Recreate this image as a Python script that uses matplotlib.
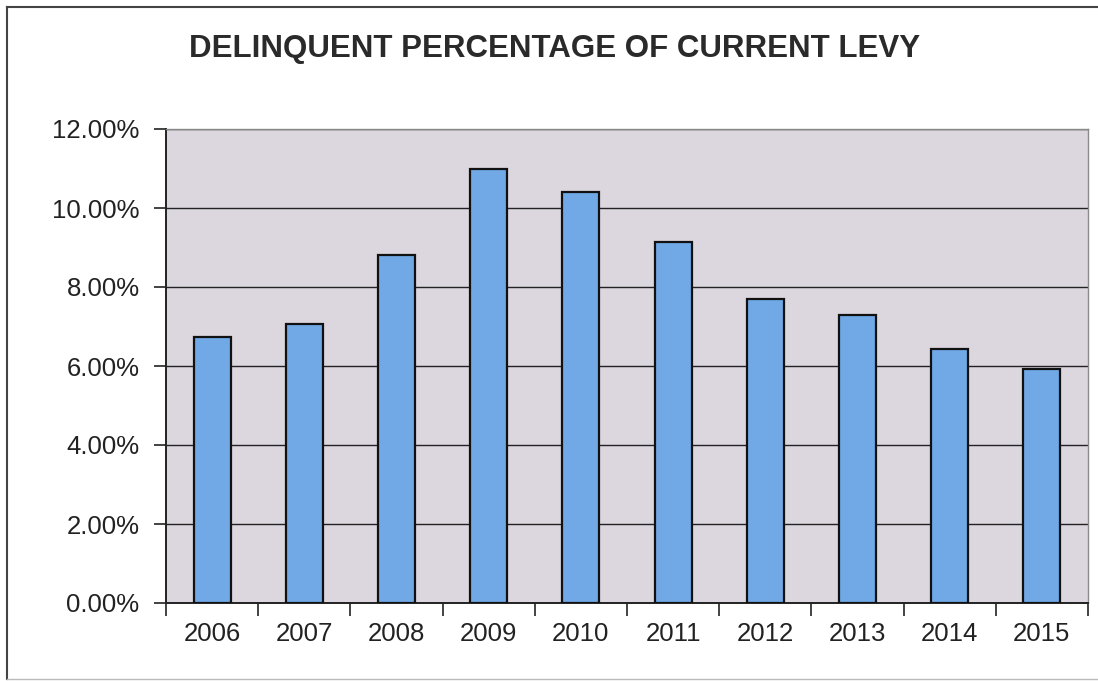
"""Delinquent percentage of current levy, 2006-2015 (Excel-style bar chart)."""

import matplotlib
matplotlib.use("Agg")
import matplotlib.pyplot as plt
from matplotlib.lines import Line2D
from matplotlib.ticker import FixedLocator, FuncFormatter

years = ["2006", "2007", "2008", "2009", "2010", "2011", "2012", "2013", "2014", "2015"]
delinquent_pct = [6.73, 7.06, 8.80, 10.99, 10.41, 9.13, 7.69, 7.29, 6.43, 5.92]
y_ticks = [0, 2, 4, 6, 8, 10, 12]

W, H = 1098, 681
fig = plt.figure(figsize=(W / 100, H / 100), dpi=100)
fig.patch.set_facecolor("white")
plt.rcParams["font.family"] = ["Liberation Sans", "DejaVu Sans"]

ax = fig.add_axes([166 / W, 1 - 603 / H, (1088 - 166) / W, (603 - 129) / H])
ax.set_facecolor("#dcd6de")

x = list(range(len(years)))
ax.bar(x, delinquent_pct, width=0.40, color="#70a9e6", edgecolor="#111111",
       linewidth=1.6, zorder=3)

ax.set_xlim(-0.5, len(years) - 0.5)
ax.set_ylim(0, 12)

# gridlines
ax.yaxis.set_major_locator(FixedLocator(y_ticks))
ax.yaxis.set_major_formatter(FuncFormatter(lambda v, _: f"{v:.2f}%"))
ax.grid(axis="y", color="#222222", lw=1.0, zorder=1)
ax.tick_params(axis="y", direction="out", length=9, width=1.2, color="#222222",
               labelsize=18.5, pad=10, labelcolor="#222222")

# x: ticks at category boundaries, labels at centres
ax.xaxis.set_major_locator(FixedLocator([i - 0.5 for i in range(len(years) + 1)]))
ax.xaxis.set_major_formatter(FuncFormatter(lambda v, _: ""))
ax.xaxis.set_minor_locator(FixedLocator(x))
ax.set_xticklabels(years, minor=True)
ax.tick_params(axis="x", which="major", direction="out", length=9, width=1.2,
               color="#222222")
ax.tick_params(axis="x", which="minor", length=0, labelsize=18.5, pad=14,
               labelcolor="#222222")

for side in ("left", "bottom"):
    ax.spines[side].set_color("#222222")
    ax.spines[side].set_linewidth(1.4)
for side in ("top", "right"):
    ax.spines[side].set_color("#8a8a8a")
    ax.spines[side].set_linewidth(1.0)

fig.text(555 / W, 1 - 49 / H, "DELINQUENT PERCENTAGE OF CURRENT LEVY",
         ha="center", va="center", fontsize=22.5, fontweight="bold", color="#2a2a2a")

# outer chart frame
fig.add_artist(Line2D([7 / W, 7 / W], [1 - 7 / H, 1 - 679 / H],
                      transform=fig.transFigure, color="#444444", lw=1.5))
fig.add_artist(Line2D([7 / W, 1.0], [1 - 7 / H, 1 - 7 / H],
                      transform=fig.transFigure, color="#444444", lw=1.5))
fig.add_artist(Line2D([7 / W, 1.0], [1 - 679 / H, 1 - 679 / H],
                      transform=fig.transFigure, color="#bbbbbb", lw=1.0))

fig.savefig("out.png", dpi=100, facecolor="white")
